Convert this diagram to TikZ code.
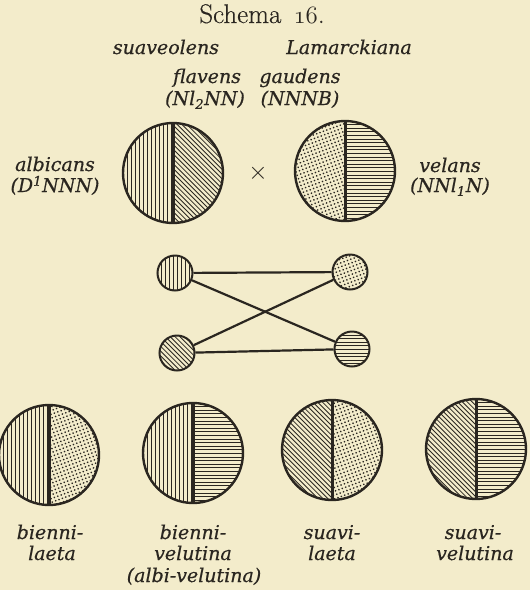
\documentclass[tikz,border=0pt]{standalone}
\usepackage{fontspec}
\newfontfamily\labfont{DejaVu Serif}[FakeBold=0.6]
\newfontfamily\titlefont{Latin Modern Roman}[FakeBold=0.4]
\usetikzlibrary{patterns.meta}
\definecolor{paper}{HTML}{F3ECCB}
\definecolor{ink}{HTML}{2A2620}
\newcommand{\osnum}[1]{{\fontencoding{OML}\fontfamily{cmm}\fontseries{m}\fontshape{it}\selectfont #1}}
\newcommand{\hatchv}{\foreach \i in {-58,-54,...,58}
  \draw[ink,line width=0.9pt] ([xshift=\i pt]path picture bounding box.north) -- ([xshift=\i pt]path picture bounding box.south);}
\newcommand{\hatchh}{\foreach \i in {-58,-54.4,...,58}
  \draw[ink,line width=0.9pt] ([yshift=\i pt]path picture bounding box.west) -- ([yshift=\i pt]path picture bounding box.east);}
\newcommand{\hatchd}{\foreach \i in {-120,-115.2,...,120}
  \draw[ink,line width=0.85pt] ([xshift=\i pt-60pt,yshift=60pt]path picture bounding box.center) -- ([xshift=\i pt+60pt,yshift=-60pt]path picture bounding box.center);}
\newcommand{\hatchdots}{\fill[pattern={Dots[distance=3.6pt,radius=0.95pt,angle=20]},pattern color=ink] (path picture bounding box.south west) rectangle (path picture bounding box.north east);}
\tikzset{
  disc/.style 2 args={circle, draw=ink, line width=2.4pt, inner sep=0pt, minimum size=100pt,
    path picture={
      \begin{scope}\clip (path picture bounding box.south west) rectangle (path picture bounding box.north); #1\end{scope}
      \begin{scope}\clip (path picture bounding box.south) rectangle (path picture bounding box.north east); #2\end{scope}
      \draw[ink, line width=3pt] (path picture bounding box.south) -- (path picture bounding box.north);}},
  small/.style={circle, draw=ink, line width=2pt, inner sep=0pt, minimum size=35pt, path picture={#1}},
  lab/.style={font=\labfont\itshape\fontsize{19}{21}\selectfont, text=ink, inner sep=0pt, anchor=base},
  link/.style={draw=ink, line width=2.2pt}
}
\begin{document}
\begin{tikzpicture}[x=1pt,y=-1pt]
\fill[paper] (0,0) rectangle (530,590);
\useasboundingbox (0,0) rectangle (530,590);
% title
\node[anchor=base, font=\titlefont\fontsize{27}{29}\selectfont, text=ink, inner sep=0pt] (title) at (262,23) {Schema\hspace{0.45em}\osnum{16}.};
% top labels
\node[lab] (suav) at (166,54) {suaveolens};
\node[lab] (lam) at (349,54) {Lamarckiana};
\node[lab] (flav) at (207,83) {flavens};
\node[lab] (gaud) at (300,83) {gaudens};
\node[lab] (flavf) at (205,105) {(Nl\textsubscript{2}NN)};
\node[lab] (gaudf) at (300,105) {(NNNB)};
\node[lab] (alb) at (55,171) {albicans};
\node[lab] (albf) at (55,192) {(D\textsuperscript{1}NNN)};
\node[lab] (vel) at (450,172) {velans};
\node[lab] (velf) at (450,192) {(NNl\textsubscript{1}N)};
% parents
\node[disc={\hatchv}{\hatchd}] (pl) at (173,173) {};
\node[disc={\hatchdots}{\hatchh}] (pr) at (345,171) {};
\node[text=ink, font=\fontsize{26}{26}\selectfont, inner sep=0pt] (cross) at (258,173) {$\times$};
% gametes
\node[small=\hatchv] (tl) at (175,273) {};
\node[small=\hatchdots] (tr) at (350,272) {};
\node[small=\hatchd] (bl) at (177,353) {};
\node[small=\hatchh] (br) at (352,349) {};
\draw[link] (tl) -- (tr);
\draw[link] (bl) -- (br);
\draw[link] (tl) -- (br);
\draw[link] (bl) -- (tr);
% offspring
\node[disc={\hatchv}{\hatchdots}] (o1) at (49,455) {};
\node[disc={\hatchv}{\hatchh}] (o2) at (193,453) {};
\node[disc={\hatchd}{\hatchdots}] (o3) at (332,450) {};
\node[disc={\hatchd}{\hatchh}] (o4) at (476,449) {};
% offspring labels
\node[lab] (o1a) at (50,539) {bienni-};
\node[lab] (o1b) at (52,560) {laeta};
\node[lab] (o2a) at (193,539) {bienni-};
\node[lab] (o2b) at (193,560) {velutina};
\node[lab] (o2c) at (194,582) {(albi-velutina)};
\node[lab] (o3a) at (332,539) {suavi-};
\node[lab] (o3b) at (332,560) {laeta};
\node[lab] (o4a) at (473,539) {suavi-};
\node[lab] (o4b) at (475,560) {velutina};
\end{tikzpicture}
\end{document}
